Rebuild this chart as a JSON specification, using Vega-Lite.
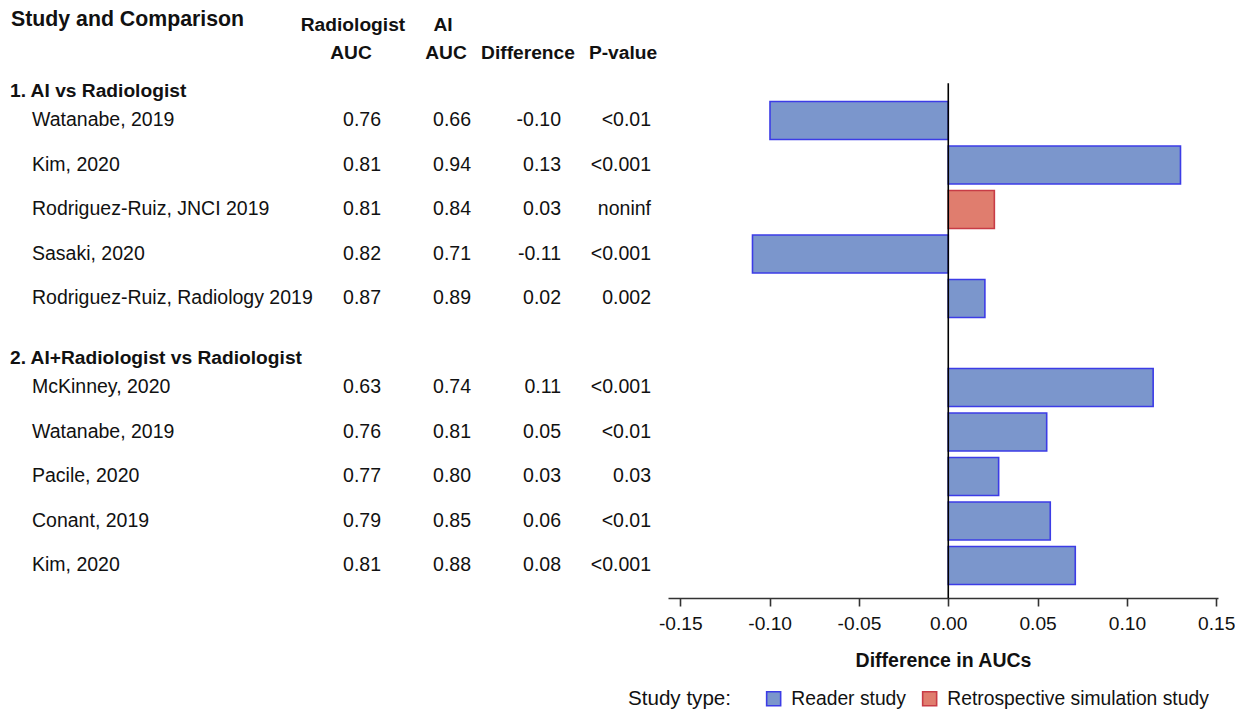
{
  "$schema": "https://vega.github.io/schema/vega-lite/v6.json",
  "padding": 0,
  "background": "white",
  "bounds": "flush",
  "spacing": 0,
  "config": {
    "locale": {"number": {"decimal": ".", "thousands": ",", "grouping": [3], "currency": ["$", ""], "minus": "-"}},
    "view": {"stroke": null},
    "font": "Liberation Sans",
    "text": {"font": "Liberation Sans", "color": "#111"}
  },
  "datasets": {
    "studies": [
      {"row": 2, "comparison": "1. AI vs Radiologist", "study": "Watanabe, 2019", "rad": 0.76, "ai": 0.66, "diff": -0.10, "p": "<0.01", "bar": -0.0998, "type": "Reader study"},
      {"row": 3, "comparison": "1. AI vs Radiologist", "study": "Kim, 2020", "rad": 0.81, "ai": 0.94, "diff": 0.13, "p": "<0.001", "bar": 0.130, "type": "Reader study"},
      {"row": 4, "comparison": "1. AI vs Radiologist", "study": "Rodriguez-Ruiz, JNCI 2019", "rad": 0.81, "ai": 0.84, "diff": 0.03, "p": "noninf", "bar": 0.0258, "type": "Retrospective simulation study"},
      {"row": 5, "comparison": "1. AI vs Radiologist", "study": "Sasaki, 2020", "rad": 0.82, "ai": 0.71, "diff": -0.11, "p": "<0.001", "bar": -0.1096, "type": "Reader study"},
      {"row": 6, "comparison": "1. AI vs Radiologist", "study": "Rodriguez-Ruiz, Radiology 2019", "rad": 0.87, "ai": 0.89, "diff": 0.02, "p": "0.002", "bar": 0.0205, "type": "Reader study"},
      {"row": 8, "comparison": "2. AI+Radiologist vs Radiologist", "study": "McKinney, 2020", "rad": 0.63, "ai": 0.74, "diff": 0.11, "p": "<0.001", "bar": 0.1147, "type": "Reader study"},
      {"row": 9, "comparison": "2. AI+Radiologist vs Radiologist", "study": "Watanabe, 2019", "rad": 0.76, "ai": 0.81, "diff": 0.05, "p": "<0.01", "bar": 0.0551, "type": "Reader study"},
      {"row": 10, "comparison": "2. AI+Radiologist vs Radiologist", "study": "Pacile, 2020", "rad": 0.77, "ai": 0.80, "diff": 0.03, "p": "0.03", "bar": 0.0282, "type": "Reader study"},
      {"row": 11, "comparison": "2. AI+Radiologist vs Radiologist", "study": "Conant, 2019", "rad": 0.79, "ai": 0.85, "diff": 0.06, "p": "<0.01", "bar": 0.0571, "type": "Reader study"},
      {"row": 12, "comparison": "2. AI+Radiologist vs Radiologist", "study": "Kim, 2020", "rad": 0.81, "ai": 0.88, "diff": 0.08, "p": "<0.001", "bar": 0.0711, "type": "Reader study"}
    ],
    "sections": [
      {"row": 1, "label": "1. AI vs Radiologist"},
      {"row": 7, "label": "2. AI+Radiologist vs Radiologist"}
    ],
    "columns": [
      {"row": 0, "col": "rad", "line1": "Radiologist", "line2": "AUC"},
      {"row": 0, "col": "ai", "line1": "AI", "line2": "AUC"},
      {"row": 0, "col": "diff", "line1": "", "line2": "Difference"},
      {"row": 0, "col": "p", "line1": "", "line2": "P-value"}
    ],
    "labelHeader": [
      {"row": 0, "label": "Study and Comparison"}
    ]
  },
  "hconcat": [
    {
      "width": 668,
      "height": 598,
      "layer": [
        {
          "data": {"name": "labelHeader"},
          "mark": {"type": "text", "align": "left", "baseline": "middle", "dx": 11, "dy": -11, "fontSize": 21.3, "fontWeight": "bold"},
          "encoding": {
            "x": {"value": 0},
            "y": {"field": "row", "type": "ordinal", "axis": null, "scale": {"type": "band", "domain": [0,1,2,3,4,5,6,7,8,9,10,11,12], "paddingInner": 0, "paddingOuter": 0.219, "align": 0.474}},
            "text": {"field": "label"}
          }
        },
        {
          "data": {"name": "columns"},
          "mark": {"type": "text", "align": "center", "baseline": "middle", "dx": -28, "dy": -6, "fontSize": 19.2, "fontWeight": "bold"},
          "encoding": {
            "x": {"field": "col", "type": "nominal", "axis": null, "scale": {"type": "point", "domain": ["rad", "ai", "diff", "p"], "range": [381, 651], "padding": 0}},
            "y": {"field": "row", "type": "ordinal"},
            "text": {"field": "line1"}
          }
        },
        {
          "data": {"name": "columns"},
          "transform": [{"filter": "datum.col === 'rad'"}],
          "mark": {"type": "text", "align": "center", "baseline": "middle", "dx": -30, "dy": 21.5, "fontSize": 19.2, "fontWeight": "bold"},
          "encoding": {
            "x": {"field": "col", "type": "nominal"},
            "y": {"field": "row", "type": "ordinal"},
            "text": {"field": "line2"}
          }
        },
        {
          "data": {"name": "columns"},
          "transform": [{"filter": "datum.col === 'ai'"}],
          "mark": {"type": "text", "align": "center", "baseline": "middle", "dx": -25, "dy": 21.5, "fontSize": 19.2, "fontWeight": "bold"},
          "encoding": {
            "x": {"field": "col", "type": "nominal"},
            "y": {"field": "row", "type": "ordinal"},
            "text": {"field": "line2"}
          }
        },
        {
          "data": {"name": "columns"},
          "transform": [{"filter": "datum.col === 'diff'"}],
          "mark": {"type": "text", "align": "center", "baseline": "middle", "dx": -33, "dy": 21.5, "fontSize": 19.2, "fontWeight": "bold"},
          "encoding": {
            "x": {"field": "col", "type": "nominal"},
            "y": {"field": "row", "type": "ordinal"},
            "text": {"field": "line2"}
          }
        },
        {
          "data": {"name": "columns"},
          "transform": [{"filter": "datum.col === 'p'"}],
          "mark": {"type": "text", "align": "center", "baseline": "middle", "dx": -28, "dy": 21.5, "fontSize": 19.2, "fontWeight": "bold"},
          "encoding": {
            "x": {"field": "col", "type": "nominal"},
            "y": {"field": "row", "type": "ordinal"},
            "text": {"field": "line2"}
          }
        },
        {
          "data": {"name": "sections"},
          "mark": {"type": "text", "align": "left", "baseline": "middle", "dx": 10, "dy": 15, "fontSize": 19.2, "fontWeight": "bold"},
          "encoding": {
            "x": {"value": 0},
            "y": {"field": "row", "type": "ordinal"},
            "text": {"field": "label"}
          }
        },
        {
          "data": {"name": "studies"},
          "mark": {"type": "text", "align": "left", "baseline": "middle", "dx": 32, "fontSize": 19.5},
          "encoding": {
            "x": {"value": 0},
            "y": {"field": "row", "type": "ordinal"},
            "text": {"field": "study"}
          }
        },
        {
          "data": {"name": "studies"},
          "mark": {"type": "text", "align": "right", "baseline": "middle", "fontSize": 19.5},
          "encoding": {
            "x": {"datum": "rad", "type": "nominal"},
            "y": {"field": "row", "type": "ordinal"},
            "text": {"field": "rad", "type": "quantitative", "format": ".2f"}
          }
        },
        {
          "data": {"name": "studies"},
          "mark": {"type": "text", "align": "right", "baseline": "middle", "fontSize": 19.5},
          "encoding": {
            "x": {"datum": "ai", "type": "nominal"},
            "y": {"field": "row", "type": "ordinal"},
            "text": {"field": "ai", "type": "quantitative", "format": ".2f"}
          }
        },
        {
          "data": {"name": "studies"},
          "mark": {"type": "text", "align": "right", "baseline": "middle", "fontSize": 19.5},
          "encoding": {
            "x": {"datum": "diff", "type": "nominal"},
            "y": {"field": "row", "type": "ordinal"},
            "text": {"field": "diff", "type": "quantitative", "format": ".2f"}
          }
        },
        {
          "data": {"name": "studies"},
          "mark": {"type": "text", "align": "right", "baseline": "middle", "fontSize": 19.5},
          "encoding": {
            "x": {"datum": "p", "type": "nominal"},
            "y": {"field": "row", "type": "ordinal"},
            "text": {"field": "p", "type": "nominal"}
          }
        }
      ]
    },
    {
      "width": 550,
      "height": 598,
      "layer": [
        {
          "data": {"name": "studies"},
          "mark": {"type": "bar", "height": {"band": 0.854}, "strokeWidth": 1.6, "orient": "horizontal"},
          "encoding": {
            "y": {"field": "row", "type": "ordinal", "axis": null, "scale": {"type": "band", "domain": [0,1,2,3,4,5,6,7,8,9,10,11,12], "paddingInner": 0, "paddingOuter": 0.219, "align": 0.474}},
            "x": {
              "field": "bar", "type": "quantitative",
              "scale": {"domain": [-0.1569, 0.1510], "nice": false, "zero": false},
              "axis": {
                "values": [-0.15, -0.1, -0.05, 0, 0.05, 0.1, 0.15],
                "format": ".2f",
                "title": "Difference in AUCs",
                "grid": false,
                "domainColor": "#333",
                "domainWidth": 1.6,
                "tickColor": "#333",
                "tickWidth": 1.6,
                "tickSize": 8,
                "labelFont": "Liberation Sans",
                "labelFontSize": 19.2,
                "labelColor": "#111",
                "labelPadding": 8,
                "titleFont": "Liberation Sans",
                "titleFontSize": 19.5,
                "titleFontWeight": "bold",
                "titleColor": "#111",
                "titlePadding": 18
              }
            },
            "color": {
              "field": "type", "type": "nominal",
              "scale": {"domain": ["Reader study", "Retrospective simulation study"], "range": ["#7b96cc", "#e07d6e"]},
              "legend": {
                "title": "Study type:",
                "orient": "none",
                "legendX": 628,
                "legendY": 689,
                "direction": "horizontal",
                "titleOrient": "left",
                "titleFont": "Liberation Sans",
                "titleFontSize": 20.6,
                "titleFontWeight": "normal",
                "titleColor": "#111",
                "titlePadding": 32,
                "titleBaseline": "middle",
                "labelFont": "Liberation Sans",
                "labelFontSize": 19.3,
                "labelColor": "#111",
                "labelLimit": 400,
                "labelOffset": 8,
                "columnPadding": 13,
                "symbolType": "square",
                "symbolSize": 196,
                "symbolStrokeWidth": 1.6
              }
            },
            "stroke": {
              "field": "type", "type": "nominal",
              "scale": {"domain": ["Reader study", "Retrospective simulation study"], "range": ["#3c3ce6", "#c83c46"]},
              "legend": {
                "title": "Study type:",
                "orient": "none",
                "legendX": 628,
                "legendY": 689,
                "direction": "horizontal",
                "titleOrient": "left",
                "titleFont": "Liberation Sans",
                "titleFontSize": 20.6,
                "titleFontWeight": "normal",
                "titleColor": "#111",
                "titlePadding": 32,
                "titleBaseline": "middle",
                "labelFont": "Liberation Sans",
                "labelFontSize": 19.3,
                "labelColor": "#111",
                "labelLimit": 400,
                "labelOffset": 8,
                "columnPadding": 13,
                "symbolType": "square",
                "symbolSize": 196,
                "symbolStrokeWidth": 1.6
              }
            }
          }
        },
        {
          "data": {"values": [{}]},
          "mark": {"type": "rule", "color": "#000", "strokeWidth": 1.6},
          "encoding": {
            "x": {"datum": 0, "type": "quantitative"},
            "y": {"datum": 1, "type": "ordinal", "bandPosition": 0.664},
            "y2": {"value": "height"}
          }
        }
      ]
    }
  ]
}
